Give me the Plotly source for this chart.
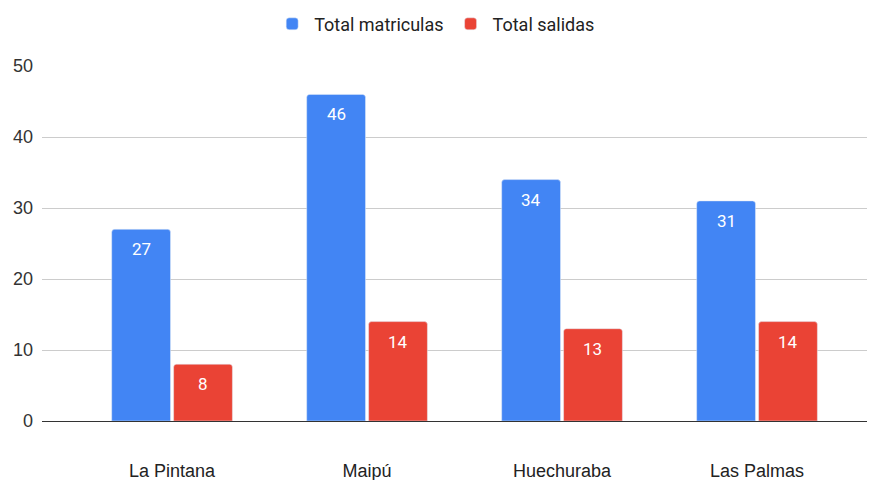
import plotly.graph_objects as go

categories = ["La Pintana", "Maipú", "Huechuraba", "Las Palmas"]
total_matriculas = [27, 46, 34, 31]
total_salidas = [8, 14, 13, 14]
y_ticks = [0, 10, 20, 30, 40, 50]

series = [
    ("Total matriculas", total_matriculas, "#4285f4"),
    ("Total salidas", total_salidas, "#ea4335"),
]

BARGAP = 0.365
BARGROUPGAP = 0.05

fig = go.Figure()
for name, vals, color in series:
    fig.add_trace(go.Bar(
        name=name, x=categories, y=vals,
        marker=dict(color=color, cornerradius=3),
    ))

# value labels inside the top of each bar (positions derived from data + bar layout)
n = len(series)
slot = (1 - BARGAP) / n
for k, (name, vals, color) in enumerate(series):
    for i, v in enumerate(vals):
        fig.add_annotation(
            x=i - (1 - BARGAP) / 2 + slot * (k + 0.5), y=v,
            xref="x", yref="y", text=str(v), showarrow=False,
            yshift=-20, yanchor="middle",
            font=dict(color="white", size=17, family="Roboto, Arial"),
        )

# page body has an 8px default margin, so the figure is sized/offset to compensate
fig.update_layout(
    width=867, height=472,
    margin=dict(l=34, r=0, t=58, b=59, autoexpand=False),
    paper_bgcolor="white", plot_bgcolor="white",
    font=dict(family="Liberation Sans, Arial", size=18, color="#222"),
    barmode="group", bargap=BARGAP, bargroupgap=BARGROUPGAP,
    legend=dict(orientation="h", x=0.472, xanchor="center", y=1.118, yanchor="middle",
                font=dict(size=18, color="#222", family="Roboto, Arial"),
                itemwidth=34, tracegroupgap=0),
    showlegend=True,
)
fig.update_xaxes(
    type="category", range=[-0.667, 3.605],
    showgrid=False, showline=False, zeroline=False,
    ticks="outside", ticklen=33, tickcolor="rgba(0,0,0,0)",
    tickfont=dict(size=18, color="#222"),
    automargin=False,
)
fig.update_yaxes(
    range=[0, 50], tickvals=y_ticks,
    showgrid=True, gridcolor="#cccccc", gridwidth=1,
    zeroline=True, zerolinecolor="#333333", zerolinewidth=1,
    showline=False, ticks="", ticklabelstandoff=8,
    tickfont=dict(size=18, color="#333"),
    automargin=False,
)

fig.write_html("out.html")
